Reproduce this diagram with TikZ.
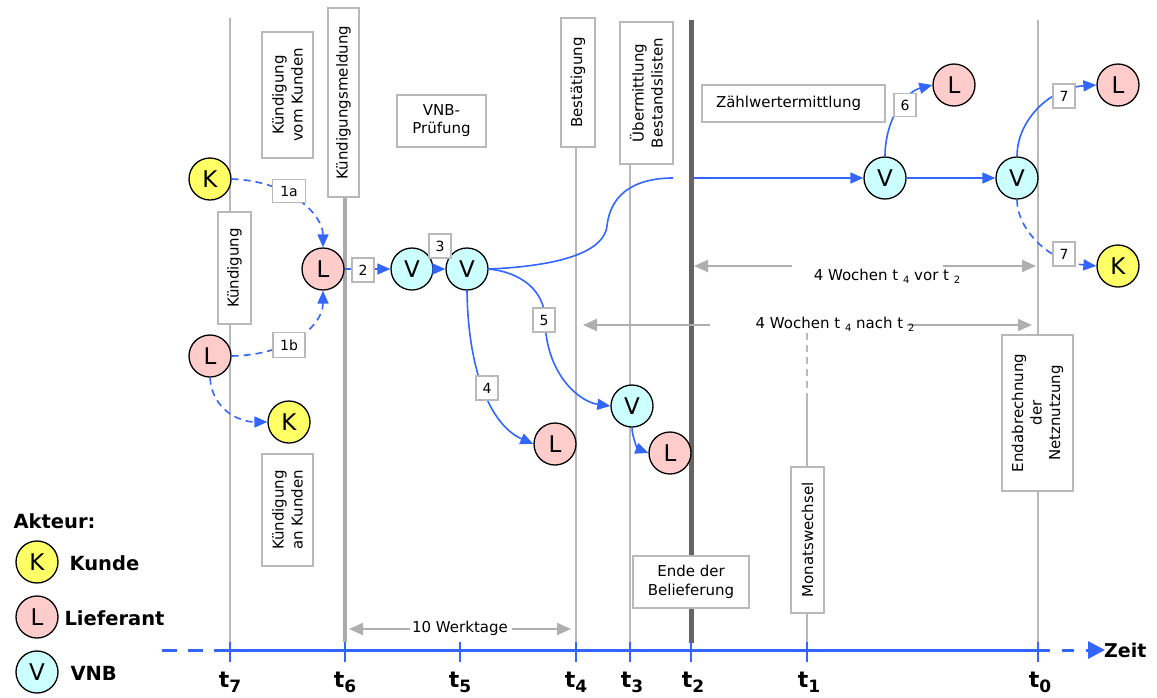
\documentclass[tikz,border=0pt]{standalone}
\usepackage{fontspec}
\setmainfont{DejaVu Sans}
\usetikzlibrary{arrows.meta}
\definecolor{bl}{RGB}{51,102,255}
\definecolor{gl}{RGB}{185,185,185}
\definecolor{ga}{RGB}{175,175,175}
\definecolor{gd}{RGB}{100,100,100}
\definecolor{gm}{RGB}{170,170,170}
\definecolor{ky}{RGB}{255,255,102}
\definecolor{lp}{RGB}{255,204,204}
\definecolor{vc}{RGB}{204,255,255}
\newcommand\tlab[1]{\fontsize{22}{22}\selectfont\bfseries t\raisebox{-5pt}{\fontsize{17}{17}\selectfont #1}}
\newcommand\sbx[1]{\raisebox{-3pt}{\fontsize{10}{10}\selectfont #1}}
\begin{document}
\begin{tikzpicture}[x=1pt,y=-1pt,
  actor/.style={circle, draw=black, line width=1.3pt, minimum size=42pt, inner sep=0pt, font=\fontsize{23}{23}\selectfont},
  kk/.style={actor, fill=ky}, ll/.style={actor, fill=lp}, vv/.style={actor, fill=vc},
  tbox/.style={draw=gl, line width=1.5pt, fill=white, inner sep=0pt, align=center, font=\fontsize{15}{19}\selectfont},
  nbox/.style={draw=gl, line width=1.5pt, fill=white, inner sep=0pt, minimum width=22pt, minimum height=24pt, font=\fontsize{14}{14}\selectfont},
  flow/.style={draw=bl, line width=1.6pt, -{Triangle[length=13pt,width=11pt]}},
  dflow/.style={flow, dash pattern=on 7pt off 5pt},
  garrow/.style={draw=ga, line width=2pt, -{Triangle[length=14pt,width=12pt]}},
  vline/.style={draw=gl, line width=1.5pt},
  tick/.style={draw=bl, line width=1.5pt},
  leg/.style={anchor=west, font=\fontsize{19.5}{20}\selectfont\bfseries},
  dim/.style={font=\fontsize{15}{15}\selectfont, inner sep=0pt}
]
\useasboundingbox (0,0) rectangle (1157,697);
\fill[white] (0,0) rectangle (1157,697);

% vertical time lines
\draw[vline] (230,18) -- (230,650);
\draw[draw=gm, line width=4pt] (345,197) -- (345,642);
\draw[vline] (576,147) -- (576,648);
\draw[vline] (630,164) -- (630,648);
\draw[draw=gd, line width=5pt] (691,20) -- (691,643);
\draw[vline, dash pattern=on 7pt off 5pt] (807,333) -- (807,400);
\draw[vline] (807,400) -- (807,650);
\draw[vline] (1038,20) -- (1038,650);

% time axis
\draw[draw=bl, line width=3pt] (230,650) -- (1038,650);
\draw[draw=bl, line width=3pt, dash pattern=on 15pt off 11pt] (162,650) -- (230,650);
\coordinate (za) at (1038,650);
\coordinate (zb) at (1105,650);
\draw[draw=bl, line width=3pt, dash pattern=on 12pt off 12pt, -{Triangle[length=17pt,width=17pt]}] (za) -- (zb);
\node[anchor=west, inner sep=0pt, font=\fontsize{19}{19}\selectfont\bfseries] (zeit) at (1104,650) {Zeit};
\foreach \xx in {230,345,460,576,630,691,807,1038} \draw[tick] (\xx,642) -- (\xx,662);
\node (l7) at (230,682) {\tlab{7}};
\node (l6) at (345,682) {\tlab{6}};
\node (l5) at (460,682) {\tlab{5}};
\node (l4) at (576,682) {\tlab{4}};
\node (l3) at (632,682) {\tlab{3}};
\node (l2) at (693,682) {\tlab{2}};
\node (l1) at (809,682) {\tlab{1}};
\node (l0) at (1040,682) {\tlab{0}};

% text boxes
\node[tbox, rotate=90, minimum width=126pt, minimum height=51pt] (vomK) at (287.5,95) {Kündigung\\vom Kunden};
\node[tbox, rotate=90, minimum width=189pt, minimum height=31pt] (kmeld) at (343.5,102.5) {Kündigungsmeldung};
\node[tbox, minimum width=89pt, minimum height=52pt, font=\fontsize{15}{18}\selectfont] (vnbp) at (441.5,121) {VNB-\\Prüfung};
\node[tbox, rotate=90, minimum width=112pt, minimum height=33pt] (kuend) at (234.5,268) {Kündigung};
\node[tbox, rotate=90, minimum width=112pt, minimum height=51pt] (anK) at (287.5,510) {Kündigung\\an Kunden};
\node[tbox, rotate=90, minimum width=129pt, minimum height=34pt] (best) at (578,82.5) {Bestätigung};
\node[tbox, rotate=90, minimum width=142pt, minimum height=53pt] (uebm) at (646.5,93) {Übermittlung\\Bestandslisten};
\node[tbox, minimum height=37pt, text width=155pt, inner xsep=14pt, align=left] (zaehl) at (793.5,103.5) {Zählwertermittlung};
\node[tbox, minimum width=116pt, minimum height=52pt] (ende) at (691,582) {Ende der\\Belieferung};
\node[tbox, rotate=90, minimum width=146pt, minimum height=33pt] (monat) at (807.5,540) {Monatswechsel};
\node[tbox, rotate=90, minimum width=156pt, minimum height=71pt, font=\fontsize{15}{18.5}\selectfont] (endab) at (1037.5,413) {Endabrechnung\\der\\Netznutzung};

% dimension arrows
\coordinate (a1s) at (792,266); \coordinate (a1e) at (694,266);
\coordinate (a2s) at (943,266); \coordinate (a2e) at (1036,266);
\draw[garrow] (a1s) -- (a1e);
\draw[garrow] (a2s) -- (a2e);
\node[dim] (w1) at (887,276) {4 Wochen t \sbx{4} vor t \sbx{2}};
\coordinate (b1s) at (710,325); \coordinate (b1e) at (583,325);
\coordinate (b2s) at (907,325); \coordinate (b2e) at (1032,325);
\draw[garrow] (b1s) -- (b1e);
\draw[garrow] (b2s) -- (b2e);
\node[dim] (w2) at (835,324) {4 Wochen t \sbx{4} nach t \sbx{2}};
\coordinate (c1s) at (410,629); \coordinate (c1e) at (349,629);
\coordinate (c2s) at (512,629); \coordinate (c2e) at (571,629);
\draw[garrow] (c1s) -- (c1e);
\draw[garrow] (c2s) -- (c2e);
\node[dim] (w3) at (460,628) {10 Werktage};

% actors
\node[kk] (K1) at (210,179) {K};
\node[ll] (L1) at (323,269) {L};
\node[ll] (L2) at (210,356) {L};
\node[kk] (K2) at (289,422) {K};
\node[vv] (V1) at (412,269) {V};
\node[vv] (V2) at (467,269) {V};
\node[ll] (L3) at (555,444) {L};
\node[vv] (V3) at (632,406) {V};
\node[ll] (L4) at (670,453) {L};
\node[vv] (V4) at (885,178) {V};
\node[ll] (L5) at (954,85) {L};
\node[vv] (V5) at (1017,178) {V};
\node[ll] (L6) at (1118,85) {L};
\node[kk] (K3) at (1118,266) {K};

% connectors
\draw[dflow] (K1.east) .. controls (290,181) and (323,215) .. (L1.north);
\draw[dflow] (L2.east) .. controls (290,355) and (323,325) .. (L1.south);
\draw[dflow] (L2.south) .. controls (212,410) and (240,422) .. (K2.west);
\draw[flow] (L1.east) -- (V1.west);
\draw[flow] (V1.east) -- (V2.west);
\coordinate (gapA) at (673,178);
\coordinate (gapB) at (694,178);
\draw[draw=bl, line width=1.6pt] (V2.east) .. controls (560,266) and (604,252) .. (607,226) .. controls (611,190) and (640,178) .. (gapA);
\draw[flow] (gapB) -- (V4.west);
\draw[flow] (V2.east) .. controls (520,272) and (545,290) .. (545,320) .. controls (546,375) and (580,402) .. (V3.west);
\draw[flow] (V2.south) .. controls (468,370) and (490,425) .. (L3.west);
\draw[flow] (V3.south) .. controls (632,437) and (638,449) .. (L4.west);
\draw[flow] (V4.east) -- (V5.west);
\draw[flow] (V4.north) .. controls (885,120) and (905,92) .. (L5.west);
\draw[flow] (V5.north) .. controls (1017,120) and (1050,88) .. (L6.west);
\draw[dflow] (V5.south) .. controls (1017,230) and (1050,262) .. (K3.west);

% step labels
\node[nbox, minimum width=33pt, minimum height=23pt] (n1a) at (289,191) {1a};
\node[nbox, minimum width=32pt, minimum height=25pt] (n1b) at (289,345) {1b};
\node[nbox] (n2) at (363,270) {2};
\node[nbox] (n3) at (440,246) {3};
\node[nbox] (n4) at (487,388) {4};
\node[nbox] (n5) at (544,320) {5};
\node[nbox, minimum height=23pt] (n6) at (905,105) {6};
\node[nbox] (n7a) at (1064,96) {7};
\node[nbox] (n7b) at (1064,254) {7};

% legend
\node[leg] (akt) at (10,521) {Akteur:};
\node[kk] (LK) at (37,562) {K};
\node[ll] (LL) at (37,617) {L};
\node[vv] (LV) at (37,672) {V};
\node[leg] (tK) at (66,563) {Kunde};
\node[leg] (tL) at (61,618) {Lieferant};
\node[leg] (tV) at (67,673) {VNB};
\end{tikzpicture}
\end{document}
